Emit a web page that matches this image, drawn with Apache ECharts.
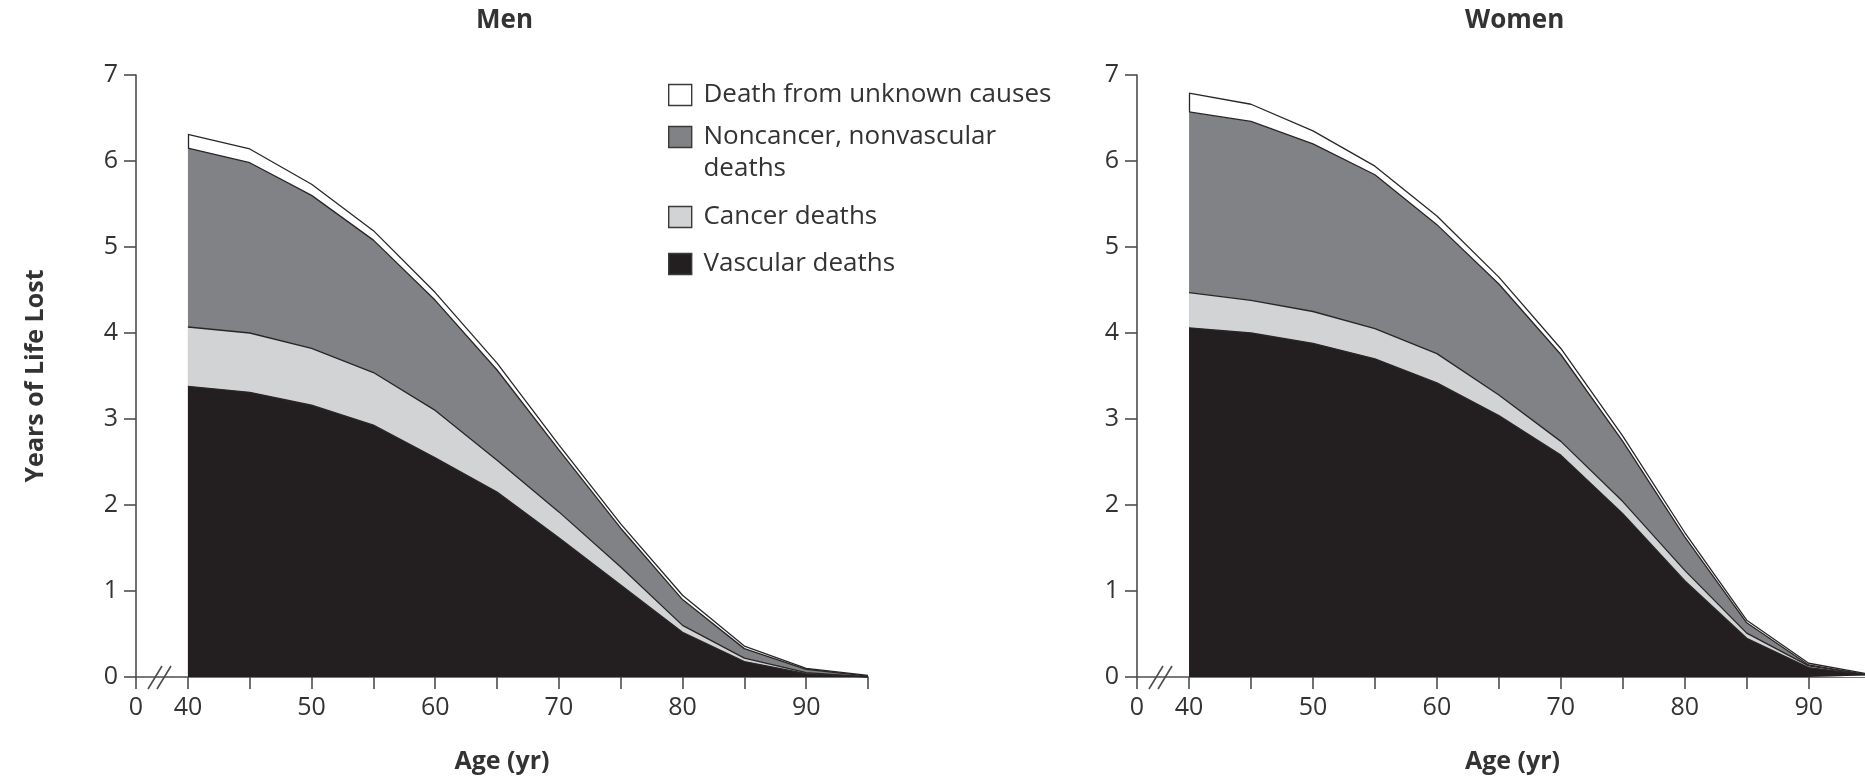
<!DOCTYPE html>
<html>
<head>
<meta charset="utf-8">
<script src="https://cdn.jsdelivr.net/npm/echarts@6/dist/echarts.min.js"></script>
<style>html,body{margin:0;padding:0;background:#fff;}#c{width:1865px;height:783px;}</style>
</head>
<body>
<div id="c"></div>
<script>
const ages = [40, 45, 50, 55, 60, 65, 70, 75, 80, 85, 90, 95];

const menVascular   = [3.38, 3.31, 3.16, 2.93, 2.55, 2.15, 1.62, 1.07, 0.52, 0.18, 0.04, 0.00];
const menCancer     = [0.69, 0.69, 0.66, 0.61, 0.55, 0.37, 0.30, 0.21, 0.08, 0.04, 0.01, 0.00];
const menNoncancer  = [2.08, 1.98, 1.78, 1.54, 1.28, 1.05, 0.72, 0.45, 0.30, 0.11, 0.04, 0.01];
const menUnknown    = [0.16, 0.16, 0.13, 0.11, 0.09, 0.08, 0.06, 0.05, 0.05, 0.03, 0.01, 0.01];

const womenVascular  = [4.06, 4.00, 3.88, 3.70, 3.42, 3.04, 2.58, 1.90, 1.12, 0.45, 0.11, 0.02];
const womenCancer    = [0.41, 0.38, 0.37, 0.35, 0.34, 0.24, 0.16, 0.14, 0.12, 0.06, 0.02, 0.00];
const womenNoncancer = [2.10, 2.08, 1.95, 1.79, 1.50, 1.29, 1.01, 0.70, 0.39, 0.12, 0.01, 0.00];
const womenUnknown   = [0.22, 0.20, 0.15, 0.10, 0.10, 0.08, 0.07, 0.06, 0.05, 0.03, 0.02, 0.01];

const causeNames = ['Vascular deaths', 'Cancer deaths', 'Noncancer, nonvascular deaths', 'Death from unknown causes'];
const yTicks = [0, 1, 2, 3, 4, 5, 6, 7];
const xLabelValues = [40, 50, 60, 70, 80, 90];
const xTickValues = [40, 45, 50, 55, 60, 65, 70, 75, 80, 85, 90, 95];
const breakOrigin = 35.8;   // where the "0" of the broken axis sits

const FONT = '"Open Sans", "Liberation Sans", sans-serif';
const TXT = '#333333';
const AXIS = '#4d4d4d';
const EDGE = '#2a2627';
const fills = ['#231f20', '#d1d3d4', '#808285', '#ffffff'];

// Build cumulative layers (layer k = sum of causes 0..k) and draw the tallest first.
function makeSeries(idx, arrays) {
  const cum = [];
  arrays.forEach((arr, k) => {
    cum.push(arr.map((v, i) => Math.round(((k ? cum[k - 1][i] : 0) + v) * 1000) / 1000));
  });
  const out = [];
  for (let k = arrays.length - 1; k >= 0; k--) {
    const s = {
      type: 'line',
      name: causeNames[k],
      xAxisIndex: idx,
      yAxisIndex: idx,
      symbol: 'none',
      showSymbol: false,
      smooth: false,
      data: ages.map((a, i) => [a, cum[k][i]]),
      itemStyle: { color: fills[k] },
      lineStyle: { color: EDGE, width: 1.3 },
      areaStyle: { color: fills[k], opacity: 1 },
      z: 2 + (arrays.length - k)
    };
    if (k === arrays.length - 1) {
      s.markLine = {
        silent: true, symbol: 'none', label: { show: false },
        lineStyle: { color: EDGE, width: 1.3, type: 'solid' },
        data: [[{ coord: [ages[0], cum[k - 1][0]] }, { coord: [ages[0], cum[k][0]] }]]
      };
    }
    out.push(s);
  }
  return out;
}

function xAxisDef(idx, maxV) {
  return {
    type: 'value', gridIndex: idx, min: breakOrigin, max: maxV,
    name: 'Age (yr)', nameLocation: 'middle', nameGap: 72,
    nameTextStyle: { fontFamily: FONT, fontSize: 25, fontWeight: 'bold', color: TXT },
    axisLine: { show: true, onZero: false, lineStyle: { color: AXIS, width: 1.6 } },
    axisTick: { show: true, inside: false, length: 12, customValues: [breakOrigin].concat(xTickValues), lineStyle: { color: AXIS, width: 1.6 } },
    axisLabel: {
      show: true, margin: 18, fontFamily: FONT, fontSize: 25, color: TXT,
      customValues: [breakOrigin].concat(xLabelValues),
      formatter: v => (v < 40 ? '0' : String(Math.round(v)))
    },
    splitLine: { show: false }
  };
}

function yAxisDef(idx, withName) {
  return {
    type: 'value', gridIndex: idx, min: 0, max: 7, interval: 1,
    name: withName ? 'Years of Life Lost' : '',
    nameLocation: 'middle', nameGap: 88,
    nameTextStyle: { fontFamily: FONT, fontSize: 25, fontWeight: 'bold', color: TXT },
    axisLine: { show: true, lineStyle: { color: AXIS, width: 1.6 } },
    axisTick: { show: true, inside: false, length: 12, lineStyle: { color: AXIS, width: 1.6 } },
    axisLabel: { show: true, margin: 18, fontFamily: FONT, fontSize: 25, color: TXT,
      customValues: yTicks, formatter: v => String(v) },
    splitLine: { show: false }
  };
}

function breakMarks(axisX, axisY) {
  const mk = (dx) => ({
    type: 'line', silent: true, z: 100,
    shape: { x1: axisX + dx, y1: axisY + 12, x2: axisX + dx + 14, y2: axisY - 11 },
    style: { stroke: AXIS, lineWidth: 1.6 }
  });
  return [mk(12), mk(21)];
}

const legendText = { fontFamily: FONT, fontSize: 26, color: TXT, lineHeight: 32 };
function legendDef(name, top, fmt) {
  return {
    show: true, data: [name], selectedMode: false, orient: 'vertical',
    left: 668, top: top, padding: 0, icon: 'rect', itemWidth: 23, itemHeight: 21, itemGap: 12,
    itemStyle: { borderColor: '#3a3a3a', borderWidth: 1.4 },
    textStyle: legendText,
    formatter: fmt || (n => ' ' + n)
  };
}

const chart = echarts.init(document.getElementById('c'), null, { renderer: 'canvas' });
chart.setOption({
  animation: false,
  backgroundColor: '#ffffff',
  title: [
    { text: 'Men', left: 471, top: 3, textStyle: { fontFamily: FONT, fontSize: 26, fontWeight: 'bold', color: TXT } },
    { text: 'Women', left: 1460, top: 3, textStyle: { fontFamily: FONT, fontSize: 26, fontWeight: 'bold', color: TXT } }
  ],
  legend: [
    legendDef('Death from unknown causes', 95 - 16),
    legendDef('Noncancer, nonvascular deaths', 137 - 48, () => ' \n Noncancer, nonvascular\n deaths'),
    legendDef('Cancer deaths', 217 - 16),
    legendDef('Vascular deaths', 264 - 16)
  ],
  grid: [
    { left: 136, top: 75, width: 732, height: 602, outerBoundsMode: 'none', containLabel: false },
    { left: 1137, top: 75, width: 751, height: 602, outerBoundsMode: 'none', containLabel: false }
  ],
  xAxis: [xAxisDef(0, 95), xAxisDef(1, 96.4)],
  yAxis: [yAxisDef(0, true), yAxisDef(1, false)],
  series: [].concat(
    makeSeries(0, [menVascular, menCancer, menNoncancer, menUnknown]),
    makeSeries(1, [womenVascular, womenCancer, womenNoncancer, womenUnknown])
  ),
  graphic: breakMarks(136, 677).concat(breakMarks(1137, 677))
});
</script>
</body>
</html>
